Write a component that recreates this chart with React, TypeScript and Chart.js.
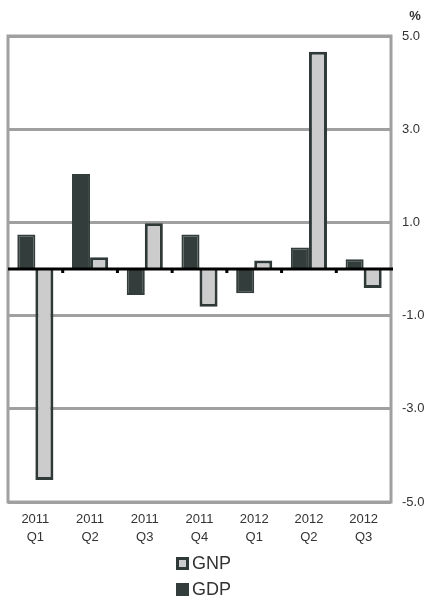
import React, { useEffect, useRef } from "react";
import { Chart, registerables } from "chart.js";

Chart.register(...registerables);

const categories: string[][] = [
  ["2011", "Q1"],
  ["2011", "Q2"],
  ["2011", "Q3"],
  ["2011", "Q4"],
  ["2012", "Q1"],
  ["2012", "Q2"],
  ["2012", "Q3"],
];
const gdpValues = [0.74, 2.04, -0.56, 0.74, -0.52, 0.46, 0.21];
const gnpValues = [-4.53, 0.25, 0.98, -0.81, 0.18, 4.66, -0.41];
const yTicks = [-5, -3, -1, 1, 3, 5];

const FONT = "'Liberation Sans', Arial, sans-serif";
const DARK = "#333d3b";
const LIGHT = "#cccccc";
const GRID = "#a0a0a0";

const framePlugin = {
  id: "frameAndZero",
  beforeDatasetsDraw(chart: any) {
    const { ctx, chartArea } = chart;
    ctx.save();
    ctx.strokeStyle = GRID;
    ctx.lineWidth = 3;
    ctx.strokeRect(chartArea.left, chartArea.top, chartArea.right - chartArea.left, chartArea.bottom - chartArea.top);
    ctx.restore();
  },
  afterDatasetsDraw(chart: any) {
    const { ctx, chartArea, scales } = chart;
    const y0 = scales.y.getPixelForValue(0);
    ctx.save();
    ctx.strokeStyle = "#000000";
    ctx.lineWidth = 3;
    ctx.beginPath();
    ctx.moveTo(chartArea.left, y0);
    ctx.lineTo(chartArea.right + 2, y0);
    ctx.stroke();
    ctx.fillStyle = "#000000";
    const n = categories.length;
    for (let i = 0; i < n - 1; i++) {
      const xb = (scales.x.getPixelForValue(i) + scales.x.getPixelForValue(i + 1)) / 2;
      ctx.fillRect(xb - 1.5, y0, 3, 4);
    }
    ctx.fillStyle = "#333333";
    ctx.font = `bold 13px ${FONT}`;
    ctx.textAlign = "center";
    ctx.textBaseline = "middle";
    ctx.fillText("%", chartArea.right + 24, 16);
    ctx.restore();
  },
};

export default function App() {
  const canvasRef = useRef<HTMLCanvasElement | null>(null);

  useEffect(() => {
    if (!canvasRef.current) return;
    const chart = new Chart(canvasRef.current, {
      type: "bar",
      data: {
        labels: categories,
        datasets: [
          {
            label: "GDP",
            data: gdpValues,
            backgroundColor: DARK,
            borderColor: DARK,
            borderWidth: 2,
            barPercentage: 1,
            categoryPercentage: 0.66,
          },
          {
            label: "GNP",
            data: gnpValues,
            backgroundColor: LIGHT,
            borderColor: "#2f3a38",
            borderWidth: 3,
            barPercentage: 1,
            categoryPercentage: 0.66,
          },
        ],
      },
      options: {
        animation: false,
        responsive: false,
        maintainAspectRatio: false,
        layout: { padding: { left: 8, top: 36, right: 0, bottom: 0 } },
        plugins: {
          legend: { display: false },
          tooltip: { enabled: false },
        },
        scales: {
          x: {
            grid: { display: false, drawTicks: false },
            border: { display: false },
            ticks: {
              font: { family: FONT, size: 13, lineHeight: 1.35 },
              color: "#333333",
              padding: 9,
              maxRotation: 0,
              autoSkip: false,
            },
            afterFit(scale: any) {
              scale.height = 97;
            },
          },
          y: {
            position: "right",
            min: yTicks[0],
            max: yTicks[yTicks.length - 1],
            afterBuildTicks(scale: any) {
              scale.ticks = yTicks.map((v) => ({ value: v }));
            },
            grid: { color: GRID, lineWidth: 3, drawTicks: false },
            border: { display: false },
            ticks: {
              font: { family: FONT, size: 13 },
              color: "#333333",
              padding: 11,
              callback: (v: any) => Number(v).toFixed(1),
            },
            afterFit(scale: any) {
              scale.width = 40;
            },
          },
        },
      },
      plugins: [framePlugin],
    });
    return () => chart.destroy();
  }, []);

  const legendItems = [
    { label: "GNP", fill: LIGHT, border: "#2f3a38", top: 554 },
    { label: "GDP", fill: DARK, border: DARK, top: 580 },
  ];

  return (
    <div style={{ position: "absolute", left: 0, top: 0, width: 431, height: 599, background: "#ffffff" }}>
      <canvas ref={canvasRef} width={431} height={599} style={{ width: 431, height: 599, display: "block" }} />
      {legendItems.map((it) => (
        <div
          key={it.label}
          style={{
            position: "absolute",
            left: 176,
            top: it.top,
            height: 18,
            display: "flex",
            alignItems: "center",
            fontFamily: FONT,
            fontSize: 18,
            color: "#333333",
            lineHeight: "18px",
          }}
        >
          <span
            style={{
              display: "inline-block",
              width: 13,
              height: 13,
              boxSizing: "border-box",
              background: it.fill,
              border: `3px solid ${it.border}`,
              marginRight: 3,
            }}
          />
          <span>{it.label}</span>
        </div>
      ))}
    </div>
  );
}
